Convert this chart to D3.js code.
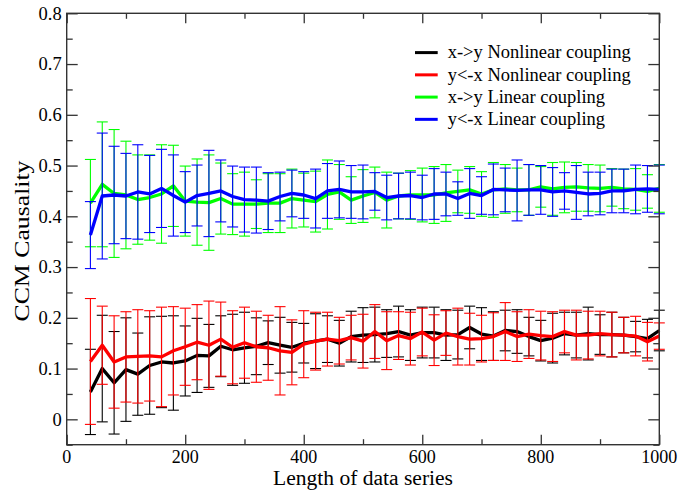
<!DOCTYPE html>
<html><head><meta charset="utf-8">
<script src="https://cdn.jsdelivr.net/npm/d3@7/dist/d3.min.js"></script>
<style>body{margin:0;background:#fff}svg{display:block}text{font-family:"Liberation Serif","Times New Roman",serif;fill:#000}</style>
</head><body><svg id="chart" width="681" height="491" font-family="Liberation Serif, Times New Roman, serif"></svg>
<script>
const lengths = [40,60,80,100,120,140,160,180,200,220,240,260,280,300,320,340,360,380,400,420,440,460,480,500,520,540,560,580,600,620,640,660,680,700,720,740,760,780,800,820,840,860,880,900,920,940,960,980,1000];

const nlXY = [0.054,0.100,0.072,0.098,0.089,0.106,0.113,0.111,0.115,0.126,0.125,0.144,0.137,0.141,0.144,0.151,0.146,0.142,0.150,0.154,0.158,0.150,0.163,0.166,0.167,0.169,0.173,0.166,0.171,0.171,0.166,0.167,0.181,0.168,0.164,0.175,0.173,0.163,0.155,0.160,0.169,0.166,0.169,0.167,0.167,0.166,0.163,0.159,0.175];
const nlXYErr = [0.084,0.105,0.101,0.102,0.081,0.096,0.090,0.093,0.069,0.073,0.062,0.060,0.070,0.070,0.056,0.043,0.055,0.049,0.039,0.054,0.046,0.045,0.050,0.054,0.054,0.047,0.050,0.050,0.050,0.050,0.050,0.048,0.042,0.052,0.048,0.040,0.043,0.038,0.040,0.049,0.042,0.045,0.052,0.039,0.044,0.035,0.030,0.038,0.040];

const nlYX = [0.114,0.146,0.113,0.123,0.124,0.125,0.123,0.135,0.143,0.152,0.146,0.158,0.142,0.151,0.143,0.141,0.135,0.132,0.148,0.154,0.158,0.155,0.161,0.154,0.173,0.155,0.165,0.159,0.172,0.156,0.170,0.163,0.158,0.159,0.163,0.173,0.163,0.168,0.165,0.163,0.173,0.166,0.166,0.169,0.167,0.166,0.164,0.153,0.164];
const nlYXErr = [0.124,0.077,0.091,0.089,0.092,0.089,0.098,0.087,0.076,0.074,0.087,0.073,0.072,0.070,0.070,0.064,0.087,0.064,0.066,0.057,0.053,0.046,0.044,0.053,0.053,0.057,0.047,0.052,0.047,0.050,0.044,0.056,0.051,0.046,0.047,0.057,0.049,0.048,0.048,0.049,0.042,0.049,0.047,0.044,0.044,0.035,0.039,0.038,0.026];

const linXY = [0.426,0.463,0.445,0.442,0.433,0.437,0.444,0.460,0.430,0.428,0.427,0.435,0.424,0.424,0.424,0.426,0.426,0.435,0.432,0.429,0.443,0.448,0.432,0.440,0.447,0.432,0.440,0.442,0.442,0.442,0.446,0.449,0.452,0.444,0.452,0.454,0.452,0.452,0.458,0.454,0.457,0.458,0.456,0.455,0.457,0.454,0.453,0.449,0.455];
const linXYErr = [0.086,0.123,0.126,0.106,0.088,0.084,0.097,0.080,0.069,0.085,0.094,0.070,0.060,0.063,0.048,0.058,0.058,0.058,0.053,0.060,0.068,0.054,0.046,0.052,0.050,0.055,0.045,0.048,0.053,0.056,0.056,0.042,0.046,0.044,0.054,0.048,0.043,0.050,0.040,0.052,0.050,0.048,0.046,0.046,0.037,0.039,0.041,0.033,0.047];

const linYX = [0.363,0.440,0.442,0.440,0.448,0.444,0.455,0.441,0.428,0.441,0.445,0.450,0.439,0.433,0.432,0.430,0.439,0.445,0.442,0.435,0.450,0.453,0.448,0.448,0.449,0.437,0.440,0.441,0.437,0.444,0.444,0.435,0.445,0.441,0.453,0.452,0.451,0.452,0.452,0.448,0.450,0.447,0.444,0.445,0.450,0.450,0.453,0.454,0.453];
const linYXErr = [0.066,0.124,0.096,0.084,0.093,0.076,0.077,0.080,0.060,0.060,0.085,0.061,0.060,0.064,0.065,0.056,0.048,0.046,0.046,0.058,0.054,0.056,0.052,0.053,0.037,0.044,0.045,0.046,0.044,0.050,0.043,0.033,0.049,0.037,0.050,0.043,0.060,0.050,0.048,0.048,0.036,0.053,0.043,0.042,0.043,0.043,0.048,0.046,0.048];

const seriesNames = ["x->y Nonlinear coupling","y<-x Nonlinear coupling","x->y Linear coupling","y<-x Linear coupling"];
const seriesColors = ["#000000","#ff0000","#00ff00","#0000ff"];

const xMajorTicks = [0,200,400,600,800,1000];
const xMinorTicks = [100,300,500,700,900];
const xTickLabels = ["0","200","400","600","800","1000"];
const yMajorTicks = [0,0.1,0.2,0.3,0.4,0.5,0.6,0.7,0.8];
const yMinorTicks = [-0.05,0.05,0.15,0.25,0.35,0.45,0.55,0.65,0.75];
const yTickLabels = ["0","0.1","0.2","0.3","0.4","0.5","0.6","0.7","0.8"];
const xTitle = "Length of data series";
const yTitle = "CCM Causality";

const svg = d3.select("#chart");
const L = 66.7, R = 659.3, T = 13.3, B = 444.7;
const x = d3.scaleLinear().domain([0,1000]).range([L,R]);
const y = d3.scaleLinear().domain([-0.05,0.8]).range([B,T]);

const series = [
  {vals: nlXY, errs: nlXYErr},
  {vals: nlYX, errs: nlYXErr},
  {vals: linXY, errs: linXYErr},
  {vals: linYX, errs: linYXErr}
].map((s,i)=>({name: seriesNames[i], color: seriesColors[i], pts: lengths.map((L0,j)=>({x:L0, v:s.vals[j], e:s.errs[j]}))}));

const plot = svg.append("g");
const line = d3.line().x(d=>x(d.x)).y(d=>y(d.v));
const capW = 5.5;
series.forEach(s=>{
  const g = plot.append("g");
  const eb = g.selectAll("g.eb").data(s.pts).join("g").attr("stroke", s.color).attr("stroke-width",1.1);
  eb.append("line").attr("x1",d=>x(d.x)).attr("x2",d=>x(d.x)).attr("y1",d=>y(d.v+d.e)).attr("y2",d=>y(d.v-d.e));
  eb.append("line").attr("x1",d=>x(d.x)-capW).attr("x2",d=>x(d.x)+capW).attr("y1",d=>y(d.v+d.e)).attr("y2",d=>y(d.v+d.e));
  eb.append("line").attr("x1",d=>x(d.x)-capW).attr("x2",d=>x(d.x)+capW).attr("y1",d=>y(d.v-d.e)).attr("y2",d=>y(d.v-d.e));
  g.append("path").datum(s.pts).attr("d",line).attr("fill","none").attr("stroke",s.color).attr("stroke-width",3.3).attr("stroke-linejoin","round");
});

// axes ticks (inward, mirrored)
const axCol = "#333";
function styleAxis(g){ g.select(".domain").remove(); g.selectAll("line").attr("stroke",axCol).attr("stroke-width",1.3); g.selectAll("text").remove(); }
svg.append("g").attr("transform",`translate(0,${B})`).call(d3.axisBottom(x).tickValues(xMajorTicks).tickSize(-10).tickFormat("")).call(styleAxis);
svg.append("g").attr("transform",`translate(0,${B})`).call(d3.axisBottom(x).tickValues(xMinorTicks).tickSize(-5.5).tickFormat("")).call(styleAxis);
svg.append("g").attr("transform",`translate(0,${T})`).call(d3.axisTop(x).tickValues(xMajorTicks).tickSize(-10).tickFormat("")).call(styleAxis);
svg.append("g").attr("transform",`translate(0,${T})`).call(d3.axisTop(x).tickValues(xMinorTicks).tickSize(-5.5).tickFormat("")).call(styleAxis);
svg.append("g").attr("transform",`translate(${L},0)`).call(d3.axisLeft(y).tickValues(yMajorTicks).tickSize(-11).tickFormat("")).call(styleAxis);
svg.append("g").attr("transform",`translate(${L},0)`).call(d3.axisLeft(y).tickValues(yMinorTicks).tickSize(-6).tickFormat("")).call(styleAxis);
svg.append("g").attr("transform",`translate(${R},0)`).call(d3.axisRight(y).tickValues(yMajorTicks).tickSize(-11).tickFormat("")).call(styleAxis);
svg.append("g").attr("transform",`translate(${R},0)`).call(d3.axisRight(y).tickValues(yMinorTicks).tickSize(-6).tickFormat("")).call(styleAxis);

svg.append("rect").attr("x",L).attr("y",T).attr("width",R-L).attr("height",B-T).attr("fill","none").attr("stroke",axCol).attr("stroke-width",1.4);

// tick labels
svg.append("g").selectAll("text").data(xMajorTicks).join("text")
  .attr("x",d=>x(d)).attr("y",462.5).attr("text-anchor","middle").style("font-size","18px")
  .text((d,i)=>xTickLabels[i]);
svg.append("g").selectAll("text").data(yMajorTicks).join("text")
  .attr("x",61.7).attr("y",d=>y(d)+6.3).attr("text-anchor","end").style("font-size","18.5px")
  .text((d,i)=>yTickLabels[i]);

// titles
svg.append("text").attr("x",(L+R)/2).attr("y",484.5).attr("text-anchor","middle").style("font-size","20px")
  .attr("textLength",180).attr("lengthAdjust","spacingAndGlyphs").text(xTitle);
svg.append("text").attr("transform","translate(28.5,241) rotate(-90)").attr("text-anchor","middle").style("font-size","21px")
  .attr("textLength",161).attr("lengthAdjust","spacingAndGlyphs").text(yTitle);

// legend
const leg = svg.append("g").selectAll("g").data(series).join("g")
  .attr("transform",(d,i)=>`translate(0,${52.6 + i*22.25})`);
leg.append("line").attr("x1",415).attr("x2",437.7).attr("y1",0).attr("y2",0).attr("stroke",d=>d.color).attr("stroke-width",3);
leg.append("text").attr("x",447.7).attr("y",5.7).style("font-size","18.5px").text(d=>d.name);
</script></body></html>
